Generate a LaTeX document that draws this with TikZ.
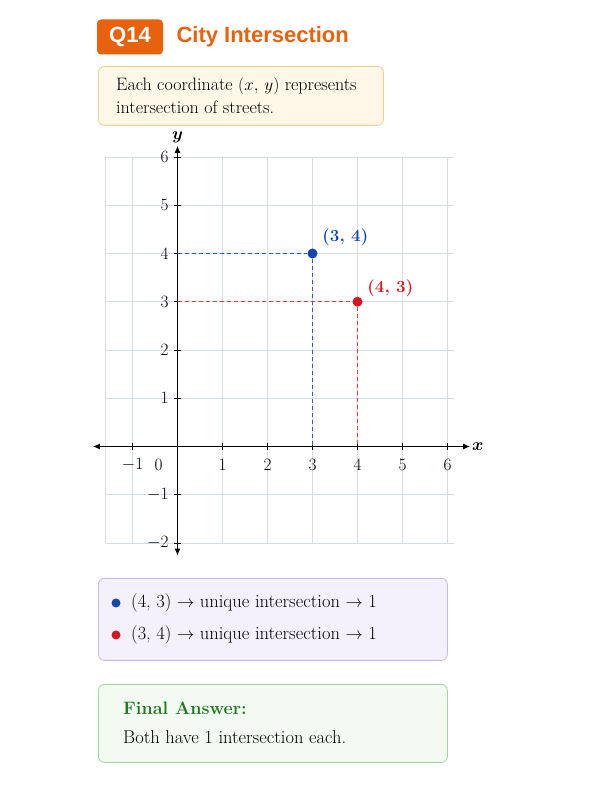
\documentclass[tikz,border=0pt]{standalone}
\usepackage{fontspec}
\newfontfamily\headfont{Liberation Sans}
\usetikzlibrary{arrows.meta}
\definecolor{qorange}{HTML}{E8620E}
\definecolor{infofill}{HTML}{FFF7E8}
\definecolor{infodraw}{HTML}{F5CD8C}
\definecolor{gridcol}{HTML}{D6DDE9}
\definecolor{ptblue}{HTML}{1446B0}
\definecolor{ptred}{HTML}{D41820}
\definecolor{guidered}{HTML}{E23C3C}
\definecolor{guideblue}{HTML}{2F5CC4}
\definecolor{legfill}{HTML}{F5F1FC}
\definecolor{legdraw}{HTML}{C8B6EC}
\definecolor{ansfill}{HTML}{F3FAF2}
\definecolor{ansdraw}{HTML}{A6D4A2}
\definecolor{ansgreen}{HTML}{1F7A1F}
\tikzset{
  panel/.style={rounded corners=6pt, line width=0.8pt, anchor=north west, inner sep=0pt},
  gridline/.style={gridcol, line width=0.7pt},
  axisline/.style={black, line width=1pt, {Latex[length=7pt,width=6pt]}-{Latex[length=7pt,width=6pt]}},
  dot/.style={circle, inner sep=0pt, minimum size=10pt},
  guide/.style={dash pattern=on 4.5pt off 2.5pt, line width=1.4pt},
  ticklabel/.style={font=\fontsize{17}{19}\selectfont}
}
\begin{document}
\begin{tikzpicture}[x=1pt,y=1pt,every node/.style={font=\fontsize{18.5}{22}\selectfont}]
  \useasboundingbox[fill=white] (0,0) rectangle (600,800);

  % Heading
  \node[fill=qorange, rounded corners=4pt, minimum width=66pt, minimum height=35pt, inner sep=0pt,
        text=white, font=\headfont\bfseries\fontsize{22}{24}\selectfont] (tag) at (130,763) {Q14};
  \node[anchor=west, text=qorange, font=\headfont\bfseries\fontsize{22}{24}\selectfont] (title) at (173,763) {City Intersection};

  % Statement box
  \node[panel, fill=infofill, draw=infodraw, minimum width=285pt, minimum height=59pt] (info) at (98,734) {};
  \node[anchor=west, align=left, inner sep=0pt, font=\fontsize{18}{23}\selectfont] (infotext) at (116,704.5)
       {Each coordinate $(x,\,y)$ represents\\intersection of streets.};

  % Coordinate plane
  \begin{scope}[shift={(177.5,353.5)}, x=45pt, y=48.25pt]
    % grid
    \foreach \gy in {-2,...,6}
      \draw[gridline] (-1.6,\gy) -- (6.15,\gy);
    \foreach \gx in {-1.6,-1,0,1,2,3,4,5,6}
      \draw[gridline] (\gx,-2) -- (\gx,6);

    % axes
    \coordinate (xl) at (-1.88,0);
    \coordinate (xr) at (6.5,0);
    \coordinate (yb) at (0,-2.26);
    \coordinate (yt) at (0,6.23);
    \draw[axisline] (xl) -- (xr);
    \draw[axisline] (yb) -- (yt);
    \node[font=\fontsize{18}{20}\selectfont\boldmath, anchor=west] (xlab) at (6.47,0) {$x$};
    \node[font=\fontsize{18}{20}\selectfont\boldmath] (ylab) at (0,6.4) {$y$};

    % ticks and numbers
    \foreach \tx in {-1,1,2,3,4,5,6} {
      \draw[line width=0.8pt] (\tx,-0.07) -- (\tx,0.07);
      \node[ticklabel] (tx\tx) at (\tx,-0.38) {$\tx$};
    }
    \node[ticklabel] (tx0) at (-0.42,-0.38) {$0$};
    \foreach \ty in {-2,-1,1,2,3,4,5,6} {
      \draw[line width=0.8pt] (-0.07,\ty) -- (0.07,\ty);
      \node[ticklabel, anchor=east] (ty\ty) at (-0.12,\ty) {$\ty$};
    }

    % points with guides
    \coordinate (g4) at (0,4);
    \coordinate (g3) at (0,3);
    \coordinate (b3) at (3,0);
    \coordinate (b4) at (4,0);
    \node[dot, fill=ptblue] (p34) at (3,4) {};
    \node[dot, fill=ptred] (p43) at (4,3) {};
    \draw[guide, guidered] (g3) -- (p43) -- (b4);
    \draw[guide, guideblue] (g4) -- (p34) -- (b3);
    \node[text=ptblue, font=\bfseries\fontsize{17}{20}\selectfont] (l34) at (3.73,4.33) {(3, 4)};
    \node[text=ptred, font=\bfseries\fontsize{17}{20}\selectfont] (l43) at (4.73,3.28) {(4, 3)};
  \end{scope}

  % Summary box
  \node[panel, fill=legfill, draw=legdraw, minimum width=349pt, minimum height=82pt] (legend) at (98,222) {};
  \node[dot, fill=ptblue, minimum size=9pt] (d1) at (116,197) {};
  \node[anchor=west, inner sep=0pt] (t1) at (131,197) {(4, 3) $\rightarrow$ unique intersection $\rightarrow$ 1};
  \node[dot, fill=ptred, minimum size=9pt] (d2) at (116,165) {};
  \node[anchor=west, inner sep=0pt] (t2) at (131,165) {(3, 4) $\rightarrow$ unique intersection $\rightarrow$ 1};

  % Answer box
  \node[panel, fill=ansfill, draw=ansdraw, minimum width=349pt, minimum height=78pt] (answer) at (98,116) {};
  \node[anchor=west, inner sep=0pt, text=ansgreen, font=\bfseries\fontsize{18}{20}\selectfont] (anshead) at (123,92) {Final Answer:};
  \node[anchor=west, inner sep=0pt] (anstext) at (123,63) {Both have 1 intersection each.};
\end{tikzpicture}
\end{document}
